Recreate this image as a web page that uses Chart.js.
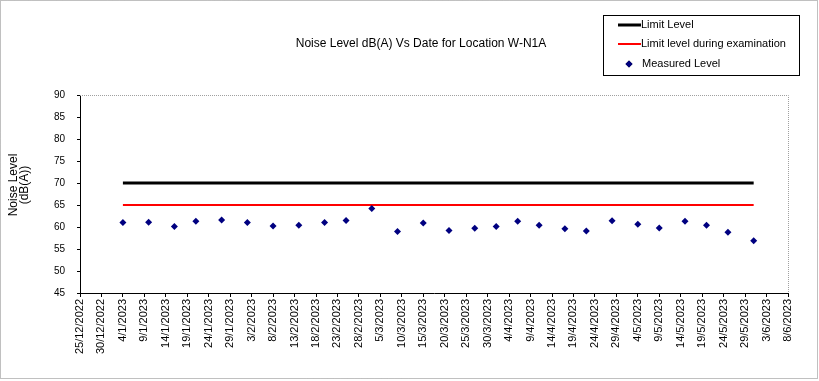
<!DOCTYPE html>
<html>
<head>
<meta charset="utf-8">
<script src="https://cdn.jsdelivr.net/npm/chart.js@4/dist/chart.umd.min.js"></script>
<style>
  html, body { margin: 0; padding: 0; background: #fff; }
  #wrap { width: 819px; height: 381px; position: relative; }
</style>
</head>
<body>
<div id="wrap"><canvas id="c" width="819" height="381"></canvas></div>
<script>
// ---- Data ----
const chartTitle = 'Noise Level dB(A) Vs Date for Location W-N1A';
const yAxisTitle = ['Noise Level', '(dB(A))'];
const seriesNames = ['Limit Level', 'Limit level during examination', 'Measured Level'];

const measureDates = ['4/1/2023','10/1/2023','16/1/2023','21/1/2023','27/1/2023',
  '2/2/2023','8/2/2023','14/2/2023','20/2/2023','25/2/2023',
  '3/3/2023','9/3/2023','15/3/2023','21/3/2023','27/3/2023',
  '1/4/2023','6/4/2023','11/4/2023','17/4/2023','22/4/2023','28/4/2023',
  '4/5/2023','9/5/2023','15/5/2023','20/5/2023','25/5/2023','31/5/2023'];
const measuredLevel = [61.0,61.1,60.1,61.3,61.6,
  61.0,60.2,60.4,61.0,61.5,
  64.2,59.0,60.9,59.2,59.7,
  60.1,61.3,60.4,59.6,59.1,61.4,
  60.6,59.8,61.3,60.4,58.8,56.9];
const limitDates = ['4/1/2023', '31/5/2023'];
const limitLevel = [70, 70];
const examLimitLevel = [65, 65];

const xTickLabels = ['25/12/2022','30/12/2022','4/1/2023','9/1/2023','14/1/2023','19/1/2023',
  '24/1/2023','29/1/2023','3/2/2023','8/2/2023','13/2/2023','18/2/2023','23/2/2023',
  '28/2/2023','5/3/2023','10/3/2023','15/3/2023','20/3/2023','25/3/2023','30/3/2023',
  '4/4/2023','9/4/2023','14/4/2023','19/4/2023','24/4/2023','29/4/2023','4/5/2023',
  '9/5/2023','14/5/2023','19/5/2023','24/5/2023','29/5/2023','3/6/2023','8/6/2023'];
const yMin = 45, yMax = 90, yStep = 5;

// ---- helpers ----
function toDay(s) {
  const p = s.split('/').map(Number);
  return (Date.UTC(p[2], p[1] - 1, p[0]) - Date.UTC(2022, 11, 25)) / 86400000;
}
const xTickDays = xTickLabels.map(toDay);

const FONT = '"Liberation Sans", Arial, sans-serif';

const framePlugin = {
  id: 'frame',
  beforeDraw(chart) {
    const ctx = chart.ctx;
    ctx.save();
    ctx.fillStyle = '#fff';
    ctx.fillRect(0, 0, chart.width, chart.height);
    ctx.restore();
  },
  afterDraw(chart) {
    const ctx = chart.ctx;
    const a = chart.chartArea;
    ctx.save();
    // outer dotted border
    ctx.strokeStyle = '#808080';
    ctx.lineWidth = 1;
    ctx.setLineDash([1, 1]);
    ctx.strokeRect(0.5, 0.5, 817, 378);
    // plot area top/right dotted border
    ctx.strokeStyle = '#a0a0a0';
    ctx.beginPath();
    ctx.moveTo(a.left, a.top + 0.5);
    ctx.lineTo(a.right + 0.5, a.top + 0.5);
    ctx.lineTo(a.right + 0.5, a.bottom);
    ctx.stroke();
    ctx.setLineDash([]);
    // title
    ctx.fillStyle = '#000';
    ctx.font = '12px ' + FONT;
    ctx.textAlign = 'center';
    ctx.textBaseline = 'middle';
    ctx.fillText(chartTitle, 421, 44);
    // y axis title
    ctx.save();
    ctx.translate(14, 185);
    ctx.rotate(-Math.PI / 2);
    ctx.fillText(yAxisTitle[0], 0, 0);
    ctx.fillText(yAxisTitle[1], 0, 11);
    ctx.restore();
    // legend
    ctx.strokeStyle = '#000';
    ctx.lineWidth = 1;
    ctx.strokeRect(603.5, 15.5, 196, 60);
    const ys = [25, 44, 64];
    ctx.font = '11px ' + FONT;
    ctx.textAlign = 'left';
    chart.data.datasets.forEach((ds, i) => {
      const y = ys[i];
      if (ds.showLine) {
        ctx.strokeStyle = ds.borderColor;
        ctx.lineWidth = ds.borderWidth;
        ctx.beginPath();
        ctx.moveTo(618, y);
        ctx.lineTo(641, y);
        ctx.stroke();
      } else {
        Chart.helpers.drawPoint(ctx, {pointStyle: 'rectRot', radius: 3.5, rotation: 0}, 629, y);
        ctx.fillStyle = ds.backgroundColor;
        ctx.fill();
      }
      ctx.fillStyle = '#000';
      ctx.fillText(ds.label, i === 2 ? 642 : 641, y);
    });
    ctx.restore();
  }
};

new Chart(document.getElementById('c'), {
  type: 'scatter',
  data: {
    datasets: [
      {
        label: seriesNames[0],
        data: limitDates.map((d, i) => ({x: toDay(d), y: limitLevel[i]})),
        showLine: true, borderColor: '#000000', borderWidth: 3,
        pointRadius: 0, order: 3
      },
      {
        label: seriesNames[1],
        data: limitDates.map((d, i) => ({x: toDay(d), y: examLimitLevel[i]})),
        showLine: true, borderColor: '#ff0000', borderWidth: 2,
        pointRadius: 0, order: 2
      },
      {
        label: seriesNames[2],
        data: measureDates.map((d, i) => ({x: toDay(d), y: measuredLevel[i]})),
        showLine: false, pointStyle: 'rectRot', pointRadius: 3.5,
        backgroundColor: '#000080', borderColor: '#000080', borderWidth: 0,
        order: 1
      }
    ]
  },
  options: {
    responsive: false,
    animation: false,
    layout: { padding: { left: 0, top: 95, right: 31, bottom: 0 } },
    plugins: { legend: { display: false }, tooltip: { enabled: false }, title: { display: false } },
    scales: {
      x: {
        type: 'linear',
        min: xTickDays[0], max: xTickDays[xTickDays.length - 1],
        afterBuildTicks(scale) { scale.ticks = xTickDays.map(v => ({value: v})); },
        afterFit(scale) { scale.height = 88; },
        border: { color: '#000', width: 1 },
        grid: { drawOnChartArea: false, drawTicks: true, tickLength: 4, color: '#000' },
        ticks: {
          autoSkip: false, minRotation: 90, maxRotation: 90, padding: 2,
          color: '#000', font: { family: FONT, size: 11 },
          callback: (v, i) => xTickLabels[i]
        }
      },
      y: {
        min: yMin, max: yMax,
        afterFit(scale) { scale.width = 80; },
        border: { color: '#000', width: 1 },
        grid: { drawOnChartArea: false, drawTicks: true, tickLength: 3, color: '#000' },
        ticks: { stepSize: yStep, padding: 12, color: '#000', font: { family: FONT, size: 10 } },
        title: { display: false }
      }
    }
  },
  plugins: [framePlugin]
});
</script>
</body>
</html>
